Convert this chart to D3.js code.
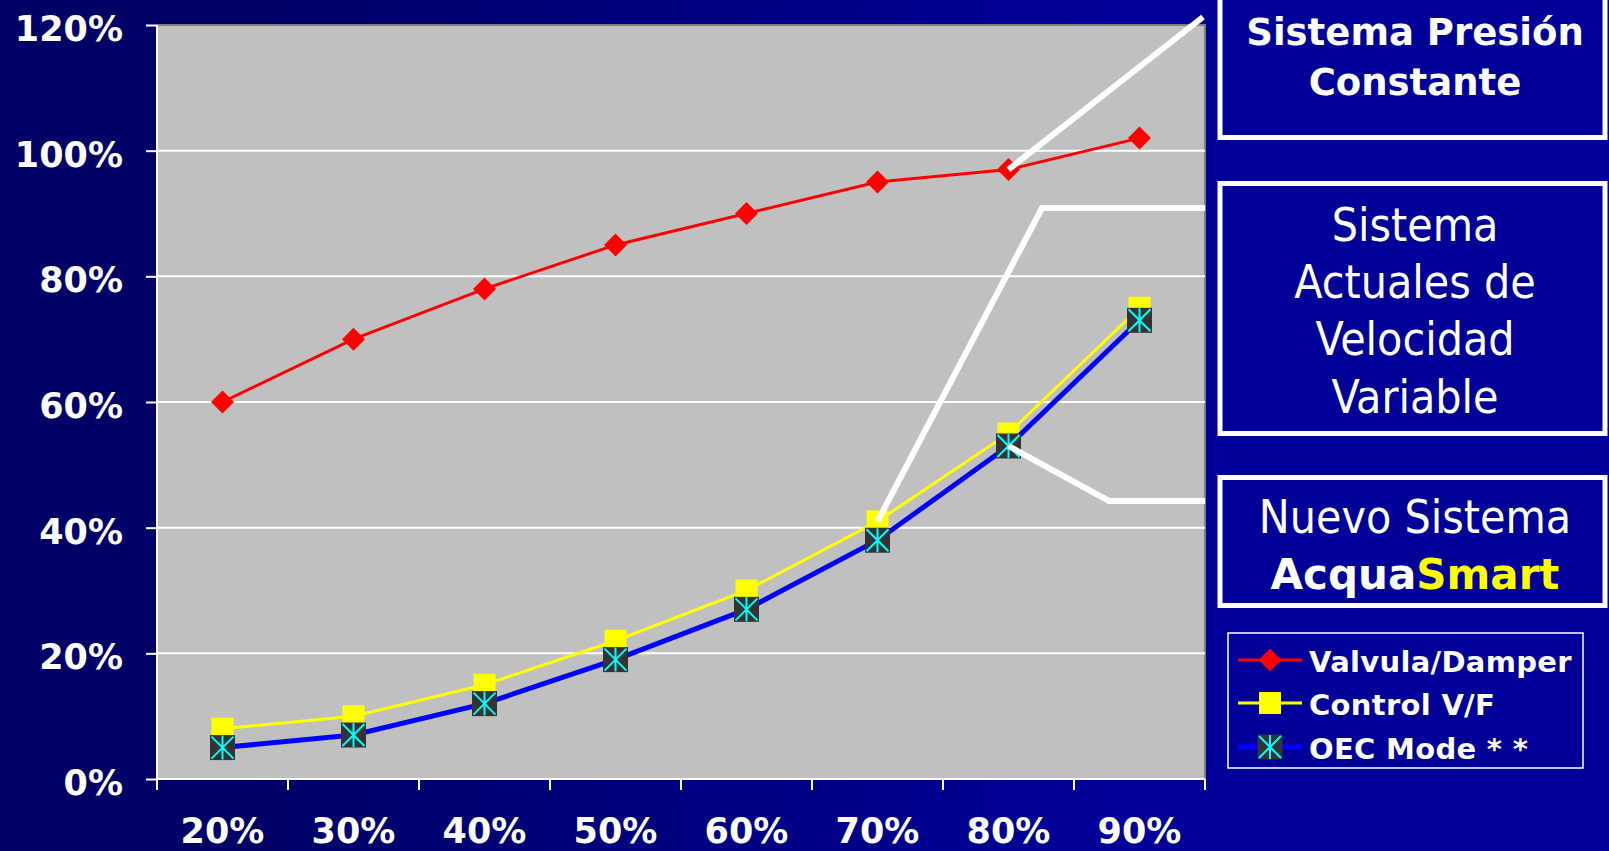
<!DOCTYPE html>
<html>
<head>
<meta charset="utf-8">
<script src="https://cdn.jsdelivr.net/npm/d3@7"></script>
<style>
	html, body { margin: 0; padding: 0; background: #000066; overflow: hidden; }
	svg { display: block; }
</style>
</head>
<body>
<div class="chart"></div>
<script>
// chart data
const categories = ['20%', '30%', '40%', '50%', '60%', '70%', '80%', '90%'];
const valvula = [60, 70, 78, 85, 90, 95, 97, 102];
const controlVF = [8, 10, 15, 22, 30, 41, 55, 75];
const oecMode = [5, 7, 12, 19, 27, 38, 53, 73];
const yTicks = [0, 20, 40, 60, 80, 100, 120];
const seriesNames = ['Valvula/Damper', 'Control V/F', 'OEC Mode * *'];

document.addEventListener('DOMContentLoaded', function() {
	let w = 1609;
	let h = 851;
	let pLeft = 157, pRight = 1205, pTop = 25, pBottom = 779;
	let boldFont = '"DejaVu Sans", Verdana, sans-serif';
	let thinFont = '"DejaVu Sans Condensed", "Liberation Sans", Arial, sans-serif';

	let svg = d3.select('.chart').append('svg').attr('width', w).attr('height', h);

	// background
	let grad = svg.append('defs').append('linearGradient').attr('id', 'bg').attr('x1', '0%').attr('x2', '100%');
	grad.append('stop').attr('offset', '0%').attr('stop-color', '#000066');
	grad.append('stop').attr('offset', '15%').attr('stop-color', '#000066');
	grad.append('stop').attr('offset', '70%').attr('stop-color', '#000099');
	svg.append('rect').attr('width', w).attr('height', h).attr('fill', 'url(#bg)');

	let xScale = d3.scaleBand().domain(categories).range([pLeft, pRight]);
	let yScale = d3.scaleLinear().domain([0, 120]).range([pBottom, pTop]);
	let bw = xScale.bandwidth();
	let cx = (i) => xScale(categories[i]) + bw / 2;

	// plot area
	svg.append('rect')
		.attr('x', pLeft).attr('y', pTop)
		.attr('width', pRight - pLeft).attr('height', pBottom - pTop)
		.attr('fill', '#c0c0c0');
	svg.append('path')
		.attr('d', 'M' + pLeft + ',' + pTop + 'H' + pRight + 'V' + pBottom)
		.attr('fill', 'none').attr('stroke', '#808080').attr('stroke-width', 2);

	// gridlines
	svg.selectAll('.grid')
		.data(yTicks.slice(1, -1))
		.enter()
		.append('line')
		.attr('x1', pLeft).attr('x2', pRight)
		.attr('y1', (d) => yScale(d)).attr('y2', (d) => yScale(d))
		.attr('stroke', '#ffffff').attr('stroke-width', 2);

	// y axis
	let yAxis = svg.append('g')
		.attr('transform', 'translate(' + pLeft + ',0)')
		.call(d3.axisLeft(yScale).tickValues(yTicks).tickSize(11).tickPadding(23).tickFormat((d) => d + '%'));
	yAxis.select('.domain').attr('stroke', '#ffffff').attr('stroke-width', 2).attr('d', 'M0,' + pTop + 'V' + pBottom);
	yAxis.selectAll('line').attr('stroke', '#ffffff').attr('stroke-width', 2);
	yAxis.selectAll('text')
		.attr('fill', '#ffffff').attr('dy', '0.44em')
		.style('font-family', boldFont).style('font-weight', 'bold').style('font-size', '35px');

	// x axis
	let xAxis = svg.append('g')
		.attr('transform', 'translate(0,' + pBottom + ')')
		.call(d3.axisBottom(xScale).tickSize(0));
	xAxis.select('.domain').attr('stroke', '#ffffff').attr('stroke-width', 2).attr('d', 'M' + pLeft + ',0H' + pRight);
	xAxis.selectAll('text')
		.attr('fill', '#ffffff').attr('y', 64).attr('dy', 0)
		.style('font-family', boldFont).style('font-weight', 'bold').style('font-size', '35px');
	svg.selectAll('.xtick')
		.data(categories.map((c) => xScale(c)).concat([pRight]))
		.enter()
		.append('line')
		.attr('x1', (d) => d).attr('x2', (d) => d)
		.attr('y1', pBottom).attr('y2', pBottom + 11)
		.attr('stroke', '#ffffff').attr('stroke-width', 2);

	// markers
	function diamond(g) {
		g.append('path').attr('d', 'M0,-11.5L11.5,0L0,11.5L-11.5,0Z').attr('fill', '#ff0000');
	}
	function square(g) {
		g.append('rect').attr('x', -11).attr('y', -11).attr('width', 22).attr('height', 22).attr('fill', '#ffff00');
	}
	function star(g) {
		g.append('rect').attr('x', -12.5).attr('y', -12.5).attr('width', 25).attr('height', 25).attr('fill', '#333333');
		g.append('path').attr('d', 'M-11,-11L11,11M11,-11L-11,11M0,-12V12')
			.attr('stroke', '#00ffff').attr('stroke-width', 2).attr('fill', 'none');
	}

	function drawSeries(values, color, width, marker) {
		let line = d3.line().x((d, i) => cx(i)).y((d) => yScale(d));
		svg.append('path').datum(values)
			.attr('d', line).attr('fill', 'none')
			.attr('stroke', color).attr('stroke-width', width);
		svg.selectAll(null)
			.data(values)
			.enter()
			.append('g')
			.attr('transform', (d, i) => 'translate(' + cx(i) + ',' + yScale(d) + ')')
			.each(function() { marker(d3.select(this)); });
	}

	drawSeries(valvula, '#ff0000', 3, diamond);
	drawSeries(controlVF, '#ffff00', 3, square);
	drawSeries(oecMode, '#0000ff', 5, star);

	// callout lines
	let callouts = [
		[[cx(6), yScale(valvula[6])], [1203, 17]],
		[[cx(5), yScale(controlVF[5])], [1042, 208], [1205, 208]],
		[[cx(6), yScale(oecMode[6])], [1109, 501], [1205, 501]]
	];
	svg.selectAll('.callout')
		.data(callouts)
		.enter()
		.append('path')
		.attr('d', (d) => d3.line()(d))
		.attr('fill', 'none').attr('stroke', '#ffffff').attr('stroke-width', 6);

	// boxes on the right
	let boxes = [[-20, 137.5], [183.5, 433.5], [477.5, 605.5]];
	svg.selectAll('.box')
		.data(boxes)
		.enter()
		.append('rect')
		.attr('x', 1220).attr('y', (d) => d[0])
		.attr('width', 385).attr('height', (d) => d[1] - d[0])
		.attr('fill', '#000099').attr('stroke', '#ffffff').attr('stroke-width', 5);

	let tx = 1415;
	[['Sistema Presión', 45], ['Constante', 95]].forEach((t) => {
		svg.append('text').attr('x', tx).attr('y', t[1]).attr('text-anchor', 'middle')
			.attr('fill', '#ffffff').style('font-family', boldFont).style('font-weight', 'bold').style('font-size', '37px')
			.text(t[0]);
	});
	[['Sistema', 241], ['Actuales de', 298], ['Velocidad', 355], ['Variable', 413], ['Nuevo Sistema', 533]].forEach((t) => {
		svg.append('text').attr('x', tx).attr('y', t[1]).attr('text-anchor', 'middle')
			.attr('fill', '#ffffff').style('font-family', thinFont).style('font-size', '46px')
			.text(t[0]);
	});
	let brand = svg.append('text').attr('x', tx).attr('y', 589).attr('text-anchor', 'middle')
		.style('font-family', boldFont).style('font-weight', 'bold').style('font-size', '42px');
	brand.append('tspan').attr('fill', '#ffffff').text('Acqua');
	brand.append('tspan').attr('fill', '#ffff00').text('Smart');

	// legend
	svg.append('rect')
		.attr('x', 1228).attr('y', 633).attr('width', 355).attr('height', 135)
		.attr('fill', 'none').attr('stroke', '#ffffff').attr('stroke-width', 1.5);
	let legendRows = [
		{ name: seriesNames[0], color: '#ff0000', width: 3, marker: diamond, y: 660 },
		{ name: seriesNames[1], color: '#ffff00', width: 3, marker: square, y: 703 },
		{ name: seriesNames[2], color: '#0000ff', width: 5, marker: star, y: 747 }
	];
	legendRows.forEach((r) => {
		svg.append('line').attr('x1', 1238).attr('x2', 1302).attr('y1', r.y).attr('y2', r.y)
			.attr('stroke', r.color).attr('stroke-width', r.width);
		let g = svg.append('g').attr('transform', 'translate(1270,' + r.y + ')');
		r.marker(g);
		svg.append('text').attr('x', 1309).attr('y', r.y + 12)
			.attr('fill', '#ffffff').style('font-family', boldFont).style('font-weight', 'bold').style('font-size', '29px')
			.style('letter-spacing', '0.3px')
			.text(r.name);
	});
});
</script>
</body>
</html>
